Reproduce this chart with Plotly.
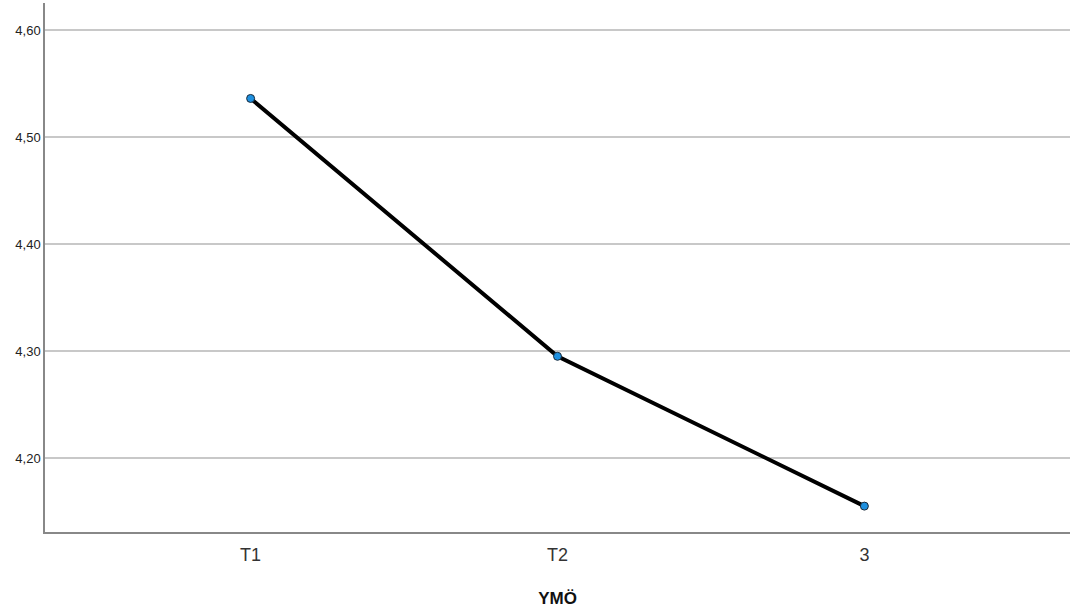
import plotly.graph_objects as go

categories = ["T1", "T2", "3"]
means = [4.536, 4.295, 4.155]
y_ticks = [4.20, 4.30, 4.40, 4.50, 4.60]
y_tick_labels = ["4,20", "4,30", "4,40", "4,50", "4,60"]

fig = go.Figure()
fig.add_trace(go.Scatter(
    x=categories, y=means, mode="lines+markers",
    line=dict(color="black", width=4),
    marker=dict(size=8, color="#1e90e0", line=dict(color="#1a2a3a", width=1)),
    showlegend=False,
))

fig.update_layout(
    width=1071, height=612,
    margin=dict(l=45, r=1, t=3, b=80),
    paper_bgcolor="white", plot_bgcolor="white",
    font=dict(family="Arial, Liberation Sans, sans-serif", color="#222"),
)
fig.update_xaxes(
    type="category", range=[-0.67, 2.67],
    showgrid=False, showline=True, linecolor="#888", linewidth=1.5,
    ticks="", tickfont=dict(size=18, color="#333"), ticklabelstandoff=6,
    title=dict(text="<b>YMÖ</b>", font=dict(size=17, color="#111"), standoff=28),
)
fig.update_yaxes(
    range=[4.1308, 4.6252],
    tickvals=y_ticks, ticktext=y_tick_labels,
    showgrid=True, gridcolor="#c8c8c8", gridwidth=1.5,
    showline=True, linecolor="#888", linewidth=1.5,
    ticks="", tickfont=dict(size=13, color="#222"), zeroline=False,
)

fig.write_html("out.html", config={"displayModeBar": False},
               post_script="document.body.style.margin='0';document.body.style.overflow='hidden';")
